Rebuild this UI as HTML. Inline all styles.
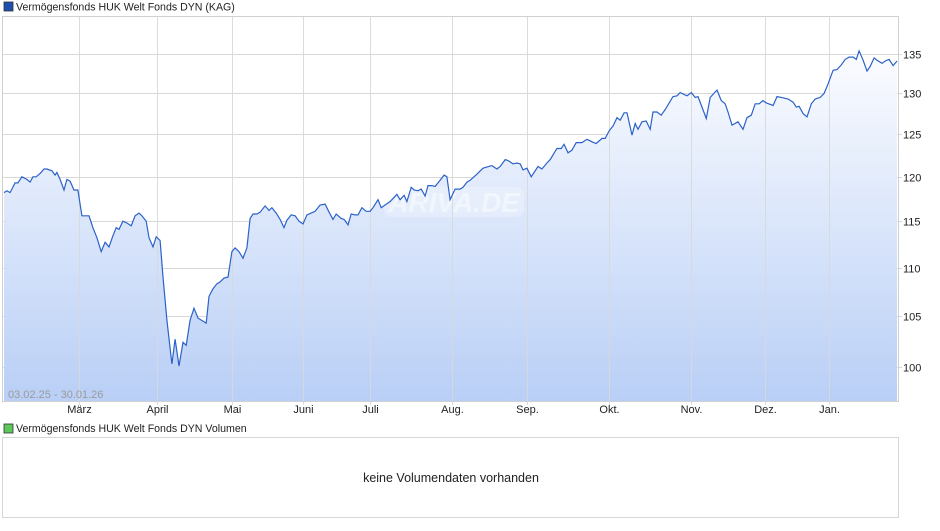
<!DOCTYPE html>
<html><head><meta charset="utf-8"><style>
body{margin:0;width:940px;height:526px;background:#fff;overflow:hidden;font-family:"Liberation Sans",sans-serif;}
svg text{font-family:"Liberation Sans",sans-serif;}
</style></head><body>
<svg id="chart" width="940" height="526" viewBox="0 0 940 526" xmlns="http://www.w3.org/2000/svg">
<defs>
<linearGradient id="fillGrad" x1="0" y1="0" x2="0" y2="1">
<stop offset="0" stop-color="#fbfcff"/>
<stop offset="1" stop-color="#b9cff6"/>
</linearGradient>
</defs>
<rect x="4" y="2" width="9" height="9" fill="#1d4fb0" stroke="#333" stroke-width="0.8"/>
<text x="16" y="10.5" font-size="10.6" fill="#222">Vermögensfonds HUK Welt Fonds DYN (KAG)</text>
<g id="grid"></g>
<path id="area" fill="url(#fillGrad)"/>
<rect x="384" y="187" width="140" height="30" rx="8" fill="#ffffff" fill-opacity="0.25"/>
<text x="454" y="212" font-size="28" font-style="italic" font-weight="bold" fill="#ffffff" fill-opacity="0.45" text-anchor="middle">ARIVA.DE</text>
<g id="vgrid"></g>
<path id="line" fill="none" stroke="#2b62c9" stroke-width="1.2"/>
<rect x="2.5" y="16.5" width="896" height="385" fill="none" stroke="#d0d0d0"/>
<g id="ylabels"></g>
<g id="xlabels"></g>
<text x="8" y="398" font-size="11" fill="#9a9a9a">03.02.25 - 30.01.26</text>
<rect x="4" y="424" width="9" height="9" fill="#5cc85c" stroke="#333" stroke-width="0.8"/>
<text x="16" y="432" font-size="10.6" fill="#222">Vermögensfonds HUK Welt Fonds DYN Volumen</text>
<rect x="2.5" y="437.5" width="896" height="80" fill="#fff" stroke="#d6d6d6"/>
<text x="451" y="482" font-size="12.5" fill="#222" text-anchor="middle">keine Volumendaten vorhanden</text>
</svg>
<script>
const days=[0,0.8,1.7,3.1,3.9,5.0,6.4,7.3,8.1,9.0,10.1,11.2,12.0,13.4,14.3,14.8,15.7,16.8,17.6,18.5,19.6,20.7,21.8,23.0,23.8,24.9,26.0,27.2,28.3,29.4,30.5,31.4,32.2,33.3,34.4,35.6,36.7,37.8,38.6,39.8,40.6,41.7,42.6,43.7,44.5,45.6,47.0,47.9,49.0,50.1,51.0,52.1,53.2,54.3,55.7,56.6,57.4,58.5,59.6,60.5,61.6,62.7,63.8,64.7,65.8,66.9,68.0,68.9,69.7,70.8,71.7,73.1,74.2,75.0,76.2,77.3,78.4,79.2,80.4,81.5,82.6,83.7,84.8,86.0,87.1,88.5,89.9,91.0,92.1,93.0,94.4,95.2,96.3,97.2,98.3,99.1,100.2,101.4,102.5,103.3,104.7,105.6,106.7,108.1,110.0,110.9,112.0,112.8,114.0,114.8,115.9,116.8,117.9,118.7,119.8,120.7,122.1,123.2,124.0,124.9,126.3,127.7,128.5,129.6,130.5,132.4,134.1,136.6,138.0,138.9,140.3,141.1,142.5,143.6,144.5,145.3,146.4,147.6,149.5,150.6,152.0,152.9,154.8,156.0,156.8,157.9,159.0,160.2,161.8,163.2,164.6,165.8,167.4,168.3,169.4,170.5,171.6,172.5,173.6,174.4,175.8,176.7,177.5,178.6,179.8,180.9,181.7,182.8,184.0,185.1,187.3,188.4,189.3,191.2,192.4,193.5,194.3,196.6,197.7,199.6,200.8,201.9,202.7,203.8,205.5,206.9,208.0,209.2,210.3,211.4,212.5,213.4,215.3,216.4,217.6,219.5,220.9,221.8,222.6,223.7,224.8,226.0,227.1,228.5,229.6,230.7,232.1,233.2,234.4,235.5,236.6,237.7,238.6,239.4,240.5,241.6,242.5,243.6,244.4,245.8,246.7,247.8,248.9,250.0];
const values=[118.2,118.4,118.2,119.3,119.3,120.0,119.7,119.4,120.0,120.0,120.4,120.9,120.9,120.7,120.2,120.5,119.7,118.5,119.7,119.5,118.5,118.5,115.6,115.6,115.6,114.3,113.2,111.7,112.7,112.2,113.4,114.3,114.1,115.0,114.8,114.5,115.6,115.9,115.6,115.0,113.2,112.2,113.3,112.9,109.0,104.6,100.3,102.7,100.1,102.4,102.1,104.6,105.8,104.8,104.5,104.3,107.0,107.8,108.3,108.5,108.9,109.0,111.7,112.1,111.7,111.0,112.1,115.3,115.8,115.8,116.0,116.7,116.2,116.5,115.9,115.2,114.3,115.1,115.7,115.6,115.0,114.7,115.7,115.9,116.1,116.8,116.9,116.0,115.2,115.8,115.3,115.2,114.6,115.8,115.7,115.7,116.5,116.1,116.1,116.5,117.4,116.5,116.8,117.2,118.0,117.4,117.9,117.2,118.8,118.5,118.4,118.6,117.8,119.0,119.0,118.9,119.6,120.2,120.0,117.4,118.6,118.6,118.8,119.4,119.6,120.3,121.0,121.3,120.9,121.2,122.0,121.9,121.5,121.6,121.5,120.8,121.0,120.0,121.2,120.9,121.6,122.0,123.3,123.3,123.8,122.8,123.1,124.0,124.0,124.4,124.1,123.9,124.5,124.5,125.4,126.0,127.0,126.7,127.6,127.6,124.9,126.3,125.6,126.5,126.6,125.6,127.7,127.7,127.3,128.0,129.6,129.7,130.1,129.7,130.1,129.5,129.6,126.9,129.5,130.4,129.1,128.7,127.7,126.1,126.5,125.6,127.0,127.3,128.7,128.7,129.1,128.8,128.5,129.6,129.5,129.3,128.9,128.3,128.4,127.5,127.1,128.7,129.3,129.5,130.0,131.2,132.9,133.0,133.6,134.3,134.6,134.6,134.3,135.4,134.2,132.8,133.4,134.5,134.2,133.8,134.1,134.3,133.5,134.1];
const yTicks=[100,105,110,115,120,125,130,135];
const monthLabels=["März","April","Mai","Juni","Juli","Aug.","Sep.","Okt.","Nov.","Dez.","Jan."];
const monthDays=[21.0,42.8,63.8,83.7,102.5,125.4,146.4,169.4,192.4,213.1,231.0];

const NS="http://www.w3.org/2000/svg";
const X0=4,X1=897,D0=0,D1=250,PT=16,PB=401;
function xScale(d){return X0+(d-D0)/(D1-D0)*(X1-X0);}
function yScale(v){return 367-1043*Math.log(v/100);}
function mk(tag,attrs,parent){const e=document.createElementNS(NS,tag);for(const k in attrs)e.setAttribute(k,attrs[k]);parent.appendChild(e);return e;}

const grid=document.getElementById('grid'),yl=document.getElementById('ylabels');
yTicks.forEach(v=>{
  const y=Math.round(yScale(v))+0.5;
  const l=mk('line',{x1:3,x2:902,y1:y,y2:y,stroke:'#d8d8d8','stroke-width':1},grid);
  
  
  const t=mk('text',{x:903,y:y+4,'font-size':11,fill:'#222'},yl);
  t.textContent=v;
  
  
});
const vg=document.getElementById('vgrid'),xl=document.getElementById('xlabels');
monthLabels.forEach((m,i)=>{
  const x=Math.round(xScale(monthDays[i]))+0.5;
  const l=mk('line',{x1:x,x2:x,y1:PT,y2:PB+4,stroke:'#d8d8d8','stroke-opacity':0.9,'stroke-width':1},vg);
  
  
  const t=mk('text',{x:x,y:413,'font-size':11,fill:'#222','text-anchor':'middle'},xl);
  t.textContent=m;
  
  
});
let d='';
days.forEach((dd,i)=>{d+=(i?'L':'M')+xScale(dd).toFixed(1)+','+yScale(values[i]).toFixed(1);});
document.getElementById('line').setAttribute('d',d);
document.getElementById('area').setAttribute('d',d+'L'+xScale(days[days.length-1]).toFixed(1)+','+PB+'L'+xScale(days[0]).toFixed(1)+','+PB+'Z');
</script>
</body></html>
